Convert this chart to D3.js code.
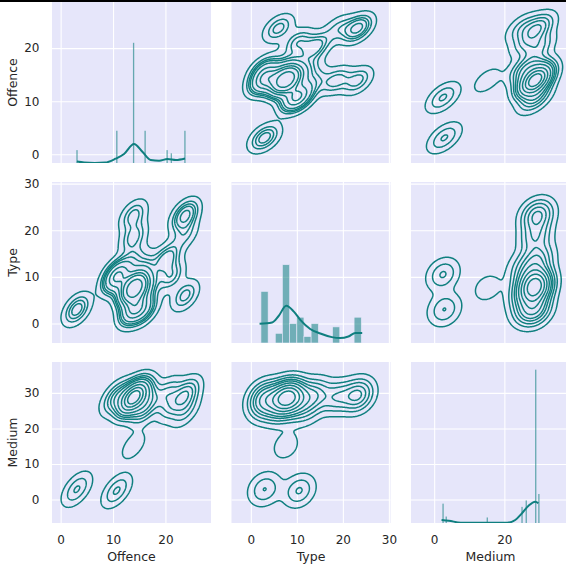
<!DOCTYPE html>
<html>
<head>
<meta charset="utf-8">
<script src="https://cdn.jsdelivr.net/npm/d3@7"></script>
<style>
  body { margin: 0; background: #fff; }
  svg { display: block; }
  text { font-family: "DejaVu Sans", sans-serif; fill: #262626; }
</style>
</head>
<body>
<div id="chart"></div>
<script>
// pairplot: kde contours off the diagonal, histogram + kde on it
const VARS = ["Offence", "Type", "Medium"];

// observations, one row per group of identical records
const obsOffence = [3.1, 3.1, 10.7, 10.7, 10.7, 13.9, 13.9, 13.9, 13.9, 13.9, 13.9, 13.9, 16, 16, 16, 20.2, 21.1, 23.75, 23.75, 23.75];
const obsType    = [2.6, 3.4, 10.5, 9.5, 10.8, 3.0, 7.6, 7.6, 18.5, 23.2, 9.2, 13.9, 3.0, 7.6, 12.3, 13.9, 10.2, 23.2, 6.0, 19.0];
const obsMedium  = [3.3, 2.5, 2.5, 28.8, 28.8, 28.8, 28.8, 15.1, 28.8, 28.8, 28.8, 28.8, 26.3, 28.8, 25, 29.7, 26.3, 29.7, 25, 28.8];
const obsCount   = [14, 14, 28, 35, 7, 56, 130, 12, 21, 21, 7, 14, 28, 28, 14, 28, 21, 35, 21, 14];

// axis limits and ticks
const offenceLim = [-1.65, 28.7];
const typeLim = [-4.2, 30.35];
const mediumLim = [-6.6, 38.7];
const offenceTicks = [0, 10, 20];
const typeTicks = [0, 10, 20, 30];
const mediumTicksX = [0, 20];
const mediumTicksY = [0, 10, 20, 30];

// histogram bins (start, width, end)
const offenceBins = [3.0, 0.2, 24.0];
const typeBins = [2.2, 1.557, 24.0];
const mediumBins = [2.35, 0.3, 30.0];

// kde curves on the diagonal (value, height)
const offenceKdeX = [3.1, 4.5, 6.5, 8.5, 10.5, 12.1, 14, 15.6, 17.2, 18.8, 20.4, 22, 23.75];
const offenceKdeY = [0.43, 0.15, 0.03, 0.12, 1.32, 2.76, 5.82, 3.46, 0.92, 0.7, 1.23, 0.92, 1.38];
const typeKdeX = [1.9, 4.6, 6.0, 7.7, 9.3, 10.75, 12.9, 15.1, 17.6, 19.4, 21.2, 22.7, 24.2];
const typeKdeY = [5.9, 6.3, 8.2, 11.4, 9.7, 7.1, 4.3, 2.9, 1.8, 1.5, 2.0, 3.1, 3.1];
const mediumKdeX = [2.1, 4.2, 7.6, 14.2, 20.8, 23.1, 25, 26.9, 28.8, 29.7];
const mediumKdeY = [0.92, 0.7, 0.09, 0.09, 0.09, 0.92, 2.97, 5.3, 6.53, 6.04];
const KDE_UNIT = 47; // the heights above are in units of tallest bar / 47

const W = 566, H = 565;
const COL_X = [52, 231.5, 411], COL_W = 159;
const ROW_Y = [2, 182, 362], ROW_H = 161;
const BG = "#e6e6fa", TEAL = "#0f7f7f";

const obs = {Offence: [], Type: [], Medium: []};
obsCount.forEach((c, k) => {
  for (let r = 0; r < c; r++) {
    obs.Offence.push(obsOffence[k]);
    obs.Type.push(obsType[k]);
    obs.Medium.push(obsMedium[k]);
  }
});
const lims = {Offence: offenceLim, Type: typeLim, Medium: mediumLim};
const xTicks = {Offence: offenceTicks, Type: typeTicks, Medium: mediumTicksX};
const yTicks = {Offence: offenceTicks, Type: typeTicks, Medium: mediumTicksY};
const bins = {Offence: offenceBins, Type: typeBins, Medium: mediumBins};
const kdeLines = {
  Offence: offenceKdeX.map((x, i) => [x, offenceKdeY[i]]),
  Type: typeKdeX.map((x, i) => [x, typeKdeY[i]]),
  Medium: mediumKdeX.map((x, i) => [x, mediumKdeY[i]])
};

const svg = d3.select("#chart").append("svg").attr("width", W).attr("height", H);
svg.append("rect").attr("width", W).attr("height", H).attr("fill", "#fff");
svg.append("rect").attr("width", W).attr("height", 2).attr("fill", "#000");

const xs = VARS.map((v, j) => d3.scaleLinear().domain(lims[v]).range([COL_X[j], COL_X[j] + COL_W]));
const ys = VARS.map((v, i) => d3.scaleLinear().domain(lims[v]).range([ROW_Y[i] + ROW_H, ROW_Y[i]]));

// histograms of the diagonal
const hists = VARS.map(v => {
  const [s, w, e] = bins[v];
  return d3.bin().domain([s, e]).thresholds(d3.range(s, e - 1e-9, w))(obs[v]);
});
const maxCount = d3.max(hists, h => d3.max(h, b => b.length));

// gaussian kde, scott bandwidth with full covariance (as scipy)
function kde2d(ax, ay) {
  const n = ax.length;
  const mx = d3.mean(ax), my = d3.mean(ay);
  let sxx = 0, syy = 0, sxy = 0;
  for (let k = 0; k < n; k++) {
    const dx = ax[k] - mx, dy = ay[k] - my;
    sxx += dx * dx; syy += dy * dy; sxy += dx * dy;
  }
  const f2 = Math.pow(n, -1 / 3);
  const a = sxx / (n - 1) * f2, b = sxy / (n - 1) * f2, c = syy / (n - 1) * f2;
  const det = a * c - b * b;
  const ia = c / det, ib = -b / det, ic = a / det;
  // unique points with weights
  const pts = d3.rollups(d3.range(n), g => g.length, k => ax[k] + "|" + ay[k])
    .map(([key, w]) => { const p = key.split("|").map(Number); return [p[0], p[1], w]; });
  const bx = Math.sqrt(a), by = Math.sqrt(c);
  const x0 = d3.min(ax) - 3 * bx, x1 = d3.max(ax) + 3 * bx;
  const y0 = d3.min(ay) - 3 * by, y1 = d3.max(ay) + 3 * by;
  const G = 200;
  const sx = (x1 - x0) / (G - 1), sy = (y1 - y0) / (G - 1);
  const values = new Float64Array(G * G);
  for (let j = 0; j < G; j++) {
    const y = y0 + j * sy;
    for (let i = 0; i < G; i++) {
      const x = x0 + i * sx;
      let s = 0;
      for (const p of pts) {
        const dx = x - p[0], dy = y - p[1];
        s += p[2] * Math.exp(-0.5 * (ia * dx * dx + 2 * ib * dx * dy + ic * dy * dy));
      }
      values[j * G + i] = s;
    }
  }
  // iso-proportion levels
  const sorted = Array.from(values).sort((p, q) => q - p);
  const total = d3.sum(sorted);
  let cum = 0;
  const norm = sorted.map(v => (cum += v) / total);
  const levels = d3.range(9).map(k => 0.05 + k * 0.95 / 9).map(q => {
    const idx = Math.min(d3.bisectLeft(norm, 1 - q), sorted.length - 1);
    return sorted[idx];
  });
  return {values, G, x0, y0, sx, sy, levels};
}

VARS.forEach((vy, i) => {
  VARS.forEach((vx, j) => {
    const x = xs[j], y = ys[i];
    const g = svg.append("g");
    const clipId = `clip-${i}-${j}`;
    g.append("clipPath").attr("id", clipId).append("rect")
      .attr("x", COL_X[j]).attr("y", ROW_Y[i]).attr("width", COL_W).attr("height", ROW_H);
    g.append("rect").attr("x", COL_X[j]).attr("y", ROW_Y[i])
      .attr("width", COL_W).attr("height", ROW_H).attr("fill", BG);

    // grid
    const gx = g.append("g").attr("transform", `translate(0,${ROW_Y[i] + ROW_H})`)
      .call(d3.axisBottom(x).tickValues(xTicks[vx]).tickSize(-ROW_H).tickPadding(12.5)
        .tickFormat(i === 2 ? d3.format("d") : ""));
    const gy = g.append("g").attr("transform", `translate(${COL_X[j]},0)`)
      .call(d3.axisLeft(y).tickValues(yTicks[vy]).tickSize(-COL_W).tickPadding(12.5)
        .tickFormat(j === 0 ? d3.format("d") : ""));
    [gx, gy].forEach(a => {
      a.select(".domain").remove();
      a.selectAll(".tick line").attr("stroke", "#fff").attr("stroke-width", 1.1);
      a.selectAll(".tick text").attr("font-size", 12).attr("fill", "#262626")
        .style("font-family", "'DejaVu Sans', sans-serif");
    });

    const body = g.append("g").attr("clip-path", `url(#${clipId})`);
    if (i === j) {
      const yc = d3.scaleLinear().domain([0, maxCount * 1.05]).range([ROW_Y[i] + ROW_H, ROW_Y[i]]);
      const wide = bins[vx][1] > 1;
      body.selectAll("rect.bar").data(hists[i].filter(b => b.length > 0)).join("rect")
        .attr("class", "bar")
        .attr("x", b => x(b.x0))
        .attr("width", b => Math.max(1.3, x(b.x1) - x(b.x0)))
        .attr("y", b => yc(b.length))
        .attr("height", b => yc(0) - yc(b.length))
        .attr("fill", TEAL).attr("fill-opacity", wide ? 0.55 : 0.6)
        .attr("stroke", wide ? BG : "none").attr("stroke-width", 0.6);
      const k = maxCount / KDE_UNIT;
      body.append("path")
        .attr("d", d3.line().x(d => x(d[0])).y(d => yc(d[1] * k)).curve(d3.curveMonotoneX)(kdeLines[vx]))
        .attr("fill", "none").attr("stroke", TEAL).attr("stroke-width", 2);
    } else {
      const k = kde2d(obs[vx], obs[vy]);
      const proj = d3.geoTransform({
        point(px, py) {
          this.stream.point(x(k.x0 + (px - 0.5) * k.sx), y(k.y0 + (py - 0.5) * k.sy));
        }
      });
      const path = d3.geoPath(proj);
      const contours = d3.contours().size([k.G, k.G]).thresholds(k.levels)(k.values);
      body.selectAll("path.iso").data(contours).join("path")
        .attr("class", "iso")
        .attr("d", path)
        .attr("fill", "none").attr("stroke", TEAL).attr("stroke-width", 1.5)
        .attr("stroke-linejoin", "round");
    }
  });
});

// axis titles
VARS.forEach((v, j) => {
  svg.append("text").attr("x", COL_X[j] + COL_W / 2).attr("y", 560.5)
    .attr("text-anchor", "middle").attr("font-size", 12.5).text(v);
});
VARS.forEach((v, i) => {
  const cy = ROW_Y[i] + ROW_H / 2;
  svg.append("text").attr("transform", `translate(17,${cy}) rotate(-90)`)
    .attr("text-anchor", "middle").attr("font-size", 12.5).text(v);
});
</script>
</body>
</html>
